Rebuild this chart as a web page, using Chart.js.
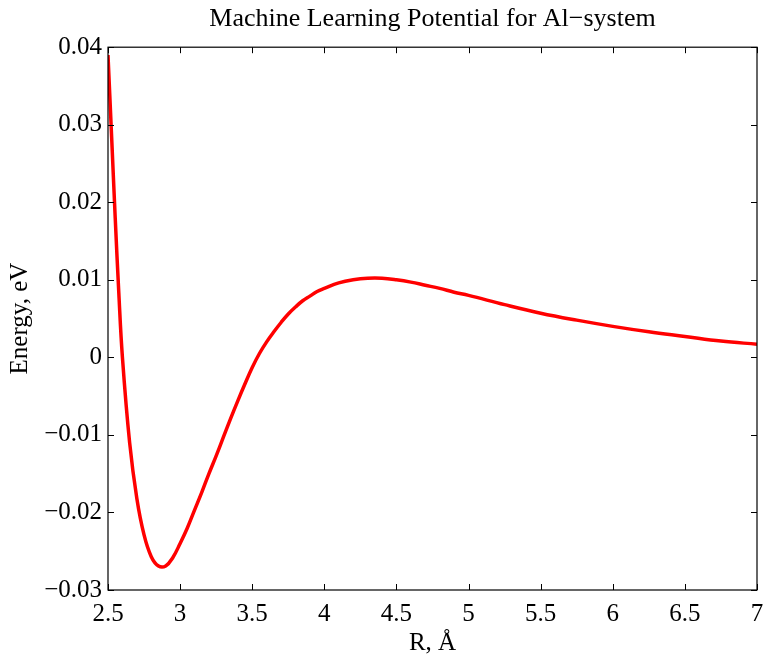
<!DOCTYPE html>
<html>
<head>
<meta charset="utf-8">
<script src="https://cdn.jsdelivr.net/npm/chart.js@4/dist/chart.umd.min.js"></script>
<style>
  body { margin: 0; background: #fff; }
  #wrap { width: 764px; height: 658px; position: relative; }
</style>
</head>
<body>
<div id="wrap"><canvas id="myChart"></canvas></div>
<script>
// distance R (Angstrom) and energy (eV)
const rValues = [2.50, 2.525, 2.55, 2.575, 2.60, 2.65, 2.70, 2.75, 2.80, 2.85, 2.90, 2.95,
    3.00, 3.05, 3.10, 3.15, 3.20, 3.25, 3.30, 3.35, 3.40, 3.45, 3.50, 3.55, 3.60, 3.65, 3.70,
    3.75, 3.80, 3.85, 3.90, 3.95, 4.00, 4.10, 4.20, 4.30, 4.40, 4.50, 4.60, 4.70, 4.80, 4.90,
    5.00, 5.25, 5.50, 5.75, 6.00, 6.25, 6.50, 6.75, 7.00];
const energyValues = [0.0390, 0.0285, 0.0180, 0.0083, 0.0000, -0.0110, -0.0182, -0.0229,
    -0.0257, -0.0269, -0.0269, -0.0258, -0.0240, -0.0220, -0.0197, -0.0174, -0.0150, -0.0127,
    -0.0103, -0.0079, -0.0056, -0.0034, -0.0013, 0.0005, 0.0020, 0.0033, 0.0045, 0.0056,
    0.0065, 0.0073, 0.0079, 0.0085, 0.0089, 0.0096, 0.0100, 0.0102, 0.0102, 0.0100, 0.0097,
    0.0093, 0.0089, 0.0084, 0.0080, 0.0068, 0.0057, 0.0048, 0.0040, 0.0033, 0.0027, 0.0021,
    0.0017];

const xTicks = [2.5, 3, 3.5, 4, 4.5, 5, 5.5, 6, 6.5, 7];
const xTickLabels = ["2.5", "3", "3.5", "4", "4.5", "5", "5.5", "6", "6.5", "7"];
const yTicks = [-0.03, -0.02, -0.01, 0, 0.01, 0.02, 0.03, 0.04];
const yTickLabels = ["\u22120.03", "\u22120.02", "\u22120.01", "0", "0.01", "0.02", "0.03", "0.04"];

const serif = "'Liberation Serif', 'Times New Roman', serif";

// box round the plot and inward tick marks, like a matlab figure
const boxPlugin = {
    id: "box",
    afterDraw(chart) {
        const {ctx, chartArea: a, scales} = chart;
        const len = 6;
        ctx.save();
        ctx.strokeStyle = "#000";
        ctx.lineWidth = 1.2;
        ctx.strokeRect(a.left, a.top, a.right - a.left, a.bottom - a.top);
        ctx.lineWidth = 1;
        ctx.beginPath();
        xTicks.forEach(v => {
            const px = Math.round(scales.x.getPixelForValue(v)) + 0.5;
            ctx.moveTo(px, a.bottom); ctx.lineTo(px, a.bottom - len);
            ctx.moveTo(px, a.top); ctx.lineTo(px, a.top + len);
        });
        yTicks.forEach(v => {
            const py = Math.round(scales.y.getPixelForValue(v)) + 0.5;
            ctx.moveTo(a.left, py); ctx.lineTo(a.left + len, py);
            ctx.moveTo(a.right, py); ctx.lineTo(a.right - len, py);
        });
        ctx.stroke();
        ctx.restore();
    }
};

const data = {
    datasets: [{
        label: "Energy",
        data: rValues.map((r, i) => ({x: r, y: energyValues[i]})),
        borderColor: "#ff0000",
        borderWidth: 3.5,
        pointRadius: 0,
        tension: 0.4,
    }],
};

const config = {
    type: "line",
    data: data,
    plugins: [boxPlugin],
    options: {
        responsive: true,
        maintainAspectRatio: false,
        animation: false,
        layout: {
            padding: {left: 0, right: 0, top: 0, bottom: 0}
        },
        scales: {
            x: {
                type: "linear",
                min: 2.5,
                max: 7,
                afterBuildTicks: scale => { scale.ticks = xTicks.map(v => ({value: v})); },
                afterFit: scale => {
                    scale.height = 68;
                    scale.paddingRight = 7;
                },
                grid: {display: false, drawTicks: false},
                border: {display: false},
                ticks: {
                    autoSkip: false,
                    maxRotation: 0,
                    padding: 9,
                    color: "#000",
                    font: {family: serif, size: 25},
                    callback: (v, i) => xTickLabels[i]
                },
                title: {
                    display: true,
                    text: "R, \u00c5",
                    color: "#000",
                    padding: {top: 0, bottom: 0},
                    font: {family: serif, size: 25}
                }
            },
            y: {
                min: -0.03,
                max: 0.04,
                afterBuildTicks: scale => { scale.ticks = yTicks.map(v => ({value: v})); },
                afterFit: scale => { scale.width = 108; },
                grid: {display: false, drawTicks: false},
                border: {display: false},
                ticks: {
                    padding: 6,
                    color: "#000",
                    font: {family: serif, size: 25},
                    callback: (v, i) => yTickLabels[i]
                },
                title: {
                    display: true,
                    text: "Energy, eV",
                    color: "#000",
                    padding: {top: 5, bottom: 0},
                    font: {family: serif, size: 25}
                }
            }
        },
        plugins: {
            legend: {display: false},
            tooltip: {enabled: false},
            title: {
                display: true,
                fullSize: false,
                text: "Machine Learning Potential for Al\u2212system",
                color: "#000",
                padding: {top: 4, bottom: 12},
                font: {family: serif, size: 26, weight: "normal"}
            }
        },
        hover: {
            mode: null,
        }
    }
};

const myChart = new Chart(document.getElementById("myChart"), config);
</script>
</body>
</html>
